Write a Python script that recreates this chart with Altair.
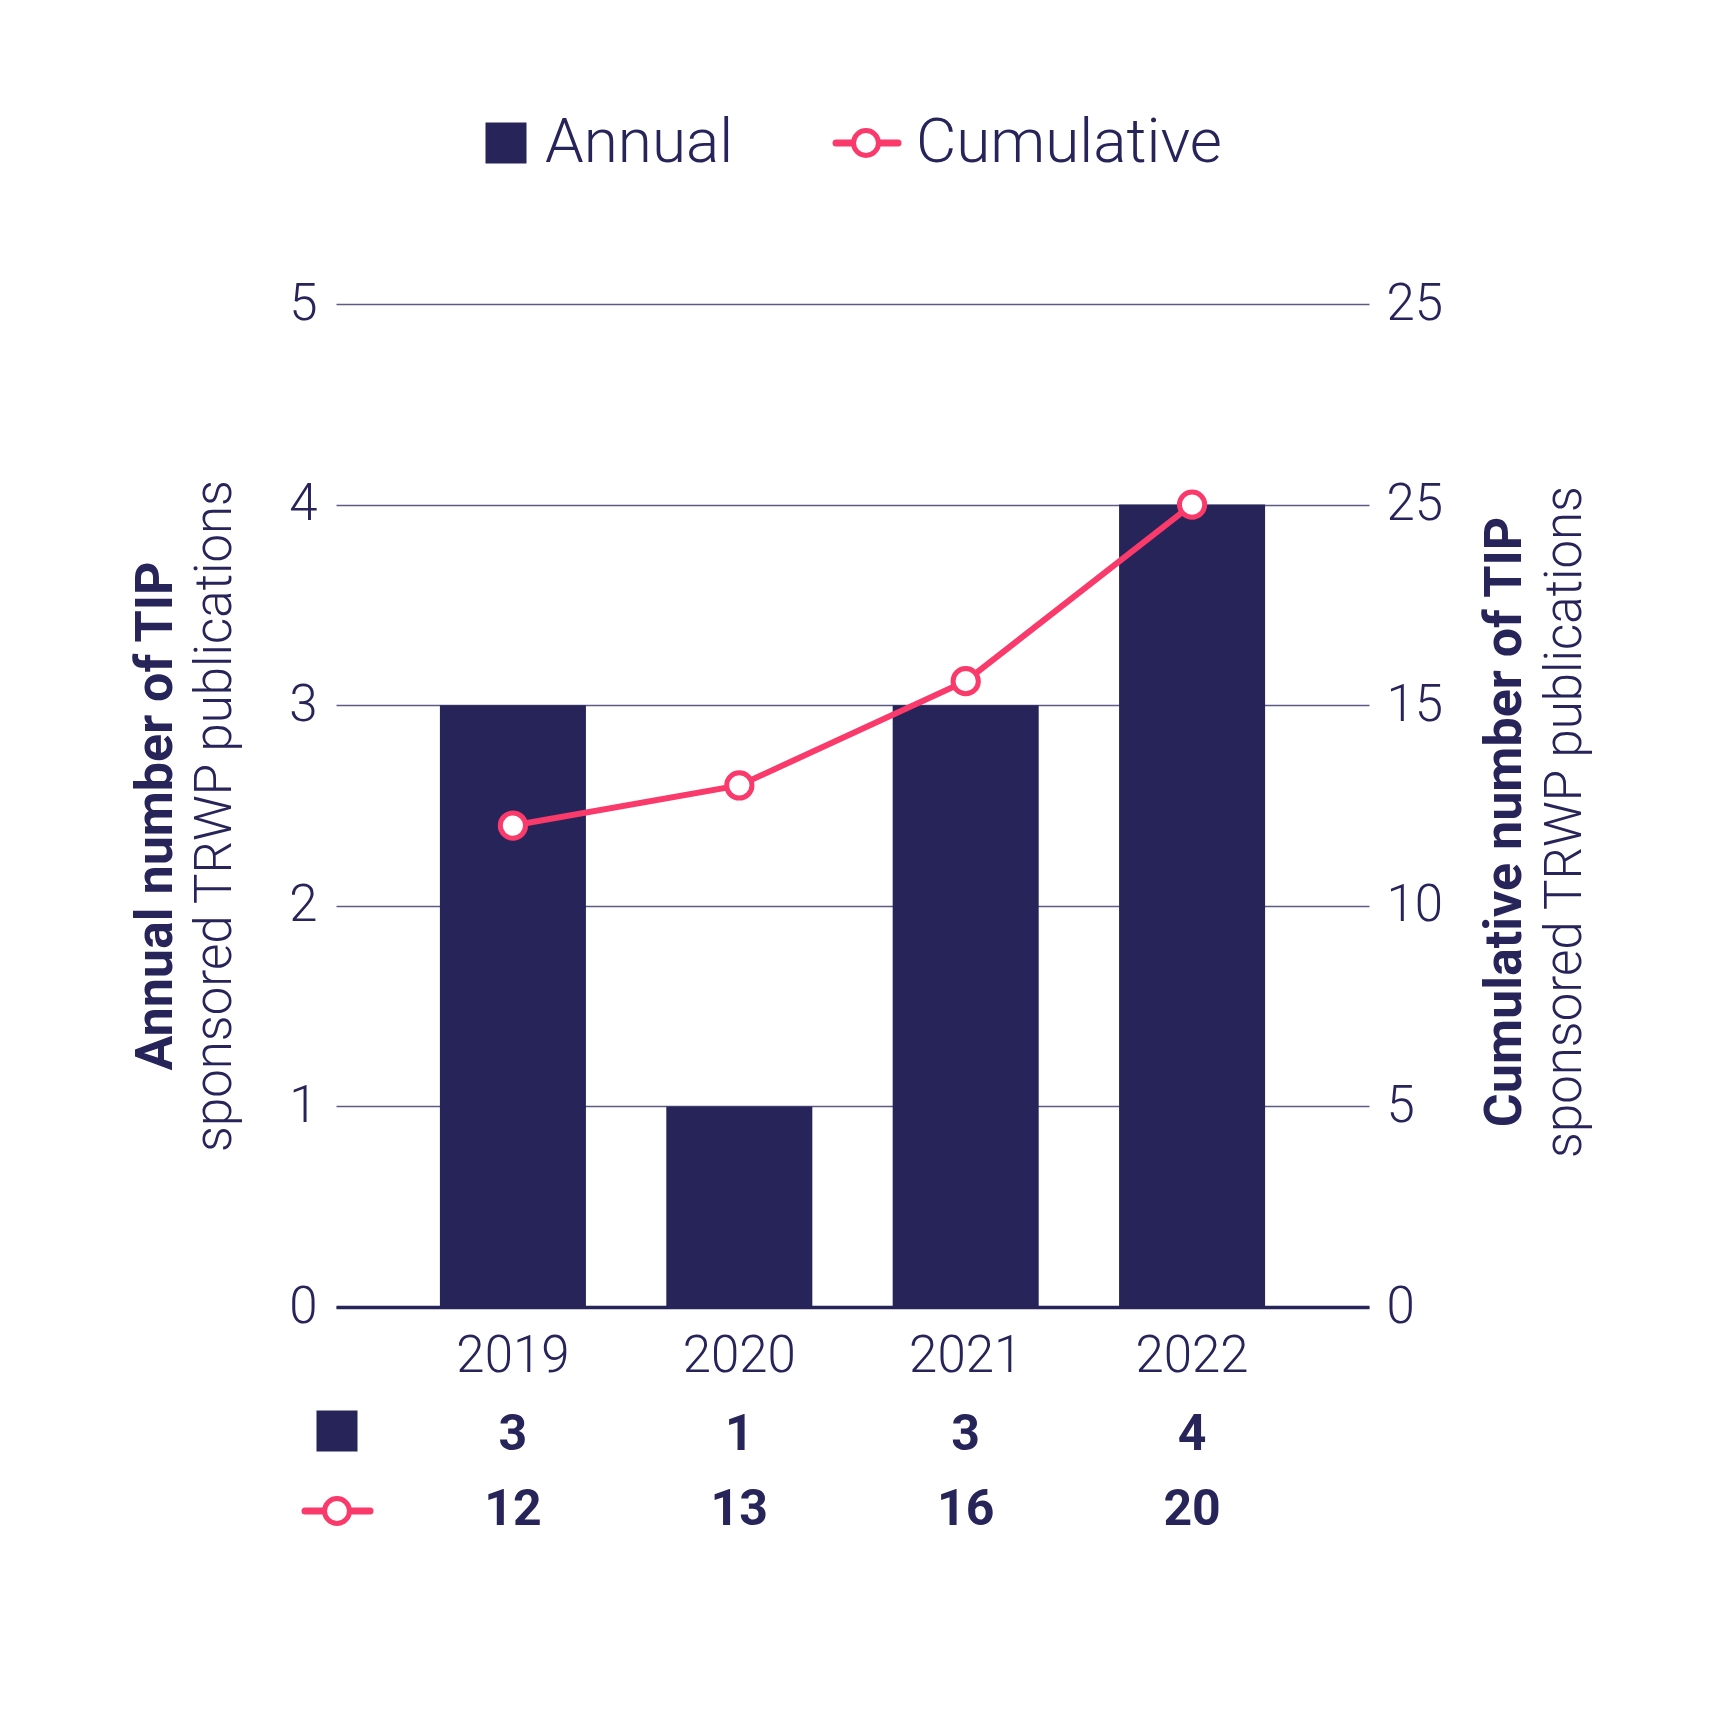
import altair as alt
import pandas as pd

# ---- data ----
years = ["2019", "2020", "2021", "2022"]
annual = [3, 1, 3, 4]
cumulative = [12, 13, 16, 20]
# positions of the cumulative markers as drawn in the original figure
cumulative_plotted = [12, 13, 15.6, 20]

annual_ticks = [0, 1, 2, 3, 4, 5]
cumulative_ticks = [0, 5, 10, 15, 20, 25]
# right-axis labels exactly as printed in the original
cumulative_tick_labels = ["0", "5", "10", "15", "25", "25"]

legend_labels = ["Annual", "Cumulative"]
left_title = ["Annual number of TIP", "sponsored TRWP publications"]
right_title = ["Cumulative number of TIP", "sponsored TRWP publications"]

NAVY = "#27245A"
PINK = "#F93A6B"
FONT = "Roboto"

df = pd.DataFrame({"year": years, "annual": annual, "cumulative": cumulative,
                   "cum_plot": cumulative_plotted})
df["annual_txt"] = df["annual"].astype(str)
df["cum_txt"] = df["cumulative"].astype(str)
one = pd.DataFrame({"k": [0]})

label_expr = "".join(
    f"datum.value == {v} ? '{l}' : " for v, l in zip(cumulative_ticks, cumulative_tick_labels)
) + "datum.label"

x_enc = alt.X(
    "year:N", title=None, sort=years,
    scale=alt.Scale(paddingInner=0.355, paddingOuter=0.459),
    axis=alt.Axis(labelAngle=0, labelFont=FONT, labelFontSize=51, labelFontWeight=300,
                  labelColor=NAVY, labelPadding=24, ticks=False, tickSize=0,
                  domainColor=NAVY, domainWidth=3.5, grid=False),
)

base = alt.Chart(df)

bars = base.mark_bar(color=NAVY).encode(
    x=x_enc,
    y=alt.Y("annual:Q", title=None, scale=alt.Scale(domain=[0, 5], nice=False),
            axis=alt.Axis(orient="left", values=annual_ticks, labelFont=FONT, labelFontSize=51,
                          labelFontWeight=300, labelColor=NAVY, labelPadding=19,
                          ticks=False, tickSize=0, domain=False, grid=True,
                          gridColor=NAVY, gridOpacity=0.75, gridWidth=1.5)),
)

y_right = alt.Y("cum_plot:Q", title=None, scale=alt.Scale(domain=[0, 25], nice=False),
                axis=alt.Axis(orient="right", values=cumulative_ticks, labelExpr=label_expr,
                              labelFont=FONT, labelFontSize=51, labelFontWeight=300,
                              labelColor=NAVY, labelPadding=17, ticks=False, tickSize=0,
                              domain=False, grid=False))

line = base.mark_line(color=PINK, strokeWidth=6).encode(x=x_enc, y=y_right)
points = base.mark_point(shape="circle", filled=True, fill="white", stroke=PINK,
                         strokeWidth=5, size=640, opacity=1).encode(x=x_enc, y=y_right)
cum_layer = alt.layer(line, points)

# bottom value table
row1 = base.mark_text(font=FONT, fontSize=50, fontWeight="bold", color=NAVY,
                      baseline="middle").encode(x=x_enc, y=alt.value(1131), text="annual_txt:N")
row2 = base.mark_text(font=FONT, fontSize=50, fontWeight="bold", color=NAVY,
                      baseline="middle").encode(x=x_enc, y=alt.value(1206), text="cum_txt:N")

deco = alt.Chart(one)
sq_tab = deco.mark_square(size=1681, color=NAVY, opacity=1).encode(
    x=alt.value(1), y=alt.value(1127))
ln_tab = deco.mark_rule(color=PINK, strokeWidth=7, strokeCap="round").encode(
    x=alt.value(-31), x2=alt.value(34), y=alt.value(1207))
pt_tab = deco.mark_point(shape="circle", filled=True, fill="white", stroke=PINK,
                         strokeWidth=5, size=620, opacity=1).encode(
    x=alt.value(1), y=alt.value(1207))

# top legend
sq_leg = deco.mark_square(size=1681, color=NAVY, opacity=1).encode(
    x=alt.value(170), y=alt.value(-161))
tx_leg1 = deco.mark_text(font=FONT, fontSize=62, fontWeight=300, color=NAVY, align="left",
                         baseline="middle").encode(
    x=alt.value(209), y=alt.value(-161), text=alt.value(legend_labels[0]))
ln_leg = deco.mark_rule(color=PINK, strokeWidth=7, strokeCap="round").encode(
    x=alt.value(500), x2=alt.value(562), y=alt.value(-161))
pt_leg = deco.mark_point(shape="circle", filled=True, fill="white", stroke=PINK,
                         strokeWidth=5, size=620, opacity=1).encode(
    x=alt.value(530), y=alt.value(-161))
tx_leg2 = deco.mark_text(font=FONT, fontSize=62, fontWeight=300, color=NAVY, align="left",
                         baseline="middle").encode(
    x=alt.value(580), y=alt.value(-161), text=alt.value(legend_labels[1]))

# axis titles (two weights)
def title_text(xv, yv, txt, weight, size):
    return deco.mark_text(font=FONT, fontSize=size, fontWeight=weight, color=NAVY, angle=270,
                          align="center", baseline="middle").encode(
        x=alt.value(xv), y=alt.value(yv), text=alt.value(txt))

lt1 = title_text(-180, 512, left_title[0], "bold", 52)
lt2 = title_text(-120, 512, left_title[1], 300, 51)
rt1 = title_text(1169, 518, right_title[0], "bold", 52)
rt2 = title_text(1230, 518, right_title[1], 300, 51)

chart = alt.layer(
    bars, cum_layer, row1, row2, sq_tab, ln_tab, pt_tab,
    sq_leg, tx_leg1, ln_leg, pt_leg, tx_leg2, lt1, lt2, rt1, rt2,
).resolve_scale(y="independent").properties(
    width=1033, height=1003,
    background="white",
    autosize=alt.AutoSizeParams(type="none"),
    padding={"left": 328, "top": 296, "right": 332, "bottom": 390},
).configure_view(strokeWidth=0, stroke="transparent")

chart.save("out.html", embed_options={"renderer": "svg", "actions": False})
